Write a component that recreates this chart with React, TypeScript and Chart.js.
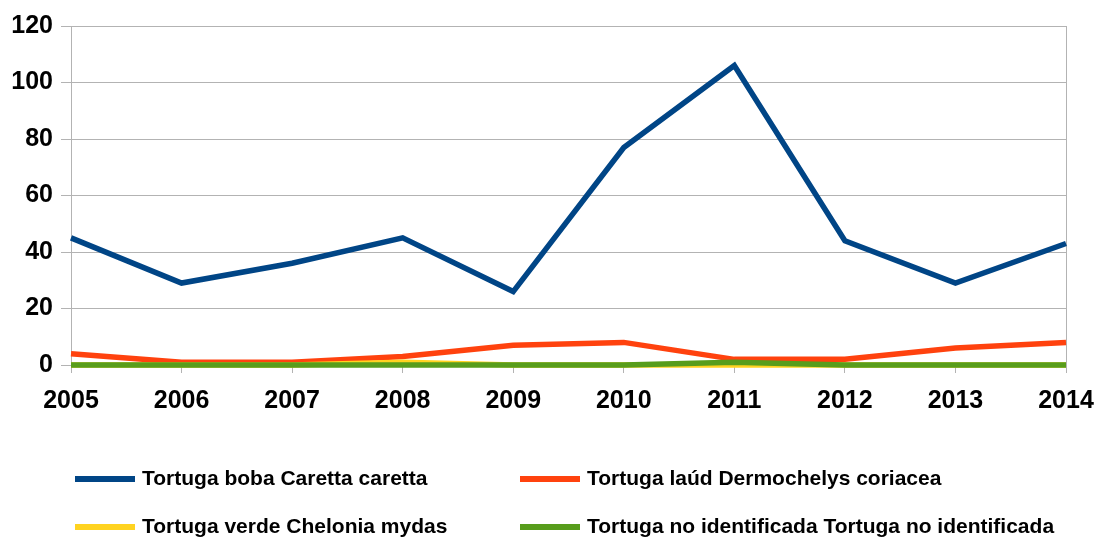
import React, { useEffect, useRef } from "react";
import { Chart, registerables } from "chart.js";

Chart.register(...registerables);

const years = ["2005", "2006", "2007", "2008", "2009", "2010", "2011", "2012", "2013", "2014"];
const tortugaBoba = [45, 29, 36, 45, 26, 77, 106, 44, 29, 43];
const tortugaLaud = [4, 1, 1, 3, 7, 8, 2, 2, 6, 8];
const tortugaVerde = [0, 0, 0, 1, 0, 0, 0, 0, 0, 0];
const tortugaNoIdent = [0, 0, 0, 0, 0, 0, 1, 0, 0, 0];
const seriesLabels = [
  "Tortuga boba Caretta caretta",
  "Tortuga laúd Dermochelys coriacea",
  "Tortuga verde Chelonia mydas",
  "Tortuga no identificada Tortuga no identificada",
];
const seriesColors = ["#004586", "#ff420e", "#ffd320", "#579d1c"];
const yMin = 0;
const yMax = 120;
const yStep = 20;

const GRID = "#b3b3b3";
const FONT = "'Liberation Sans', Arial, sans-serif";

const legendPlugin = {
  id: "customLegend",
  afterDraw(chart: any) {
    const ctx = chart.ctx;
    const cols = [75, 520];
    const rows = [479, 527];
    ctx.save();
    chart.data.datasets.forEach((ds: any, i: number) => {
      const x = cols[i % 2];
      const y = rows[Math.floor(i / 2)];
      ctx.fillStyle = ds.borderColor;
      ctx.fillRect(x, y - 3, 60, 6);
      ctx.fillStyle = "#000";
      ctx.font = `bold 21px ${FONT}`;
      ctx.textBaseline = "middle";
      ctx.textAlign = "left";
      ctx.fillText(ds.label, x + 67, y);
    });
    ctx.restore();
  },
};

export default function App() {
  const ref = useRef<HTMLCanvasElement | null>(null);
  useEffect(() => {
    document.body.style.margin = "0";
    const values = [tortugaBoba, tortugaLaud, tortugaVerde, tortugaNoIdent];
    const orders = [3, 2, 1, 0];
    const chart = new Chart(ref.current as HTMLCanvasElement, {
      type: "line",
      data: {
        labels: years,
        datasets: values.map((v, i) => ({
          label: seriesLabels[i],
          data: v,
          borderColor: seriesColors[i],
          backgroundColor: seriesColors[i],
          borderWidth: 5.5,
          pointRadius: 0,
          tension: 0,
          fill: false,
          clip: false as any,
          order: orders[i],
          borderJoinStyle: "miter" as const,
        })),
      },
      options: {
        responsive: false,
        animation: false,
        layout: { padding: { top: 26, right: 34, bottom: 128, left: 0 } },
        plugins: { legend: { display: false }, tooltip: { enabled: false } },
        scales: {
          x: {
            type: "category",
            offset: false,
            afterFit: (s: any) => {
              s.height = 50;
              s.paddingLeft = 0;
              s.paddingRight = 0;
            },
            grid: {
              color: (c: any) => (c.index === years.length - 1 ? GRID : "rgba(0,0,0,0)"),
              tickColor: GRID,
              tickLength: 8,
              lineWidth: 1,
            },
            border: { display: true, color: GRID },
            ticks: {
              color: "#000",
              font: { family: FONT, size: 25, weight: "bold" },
              padding: 13,
              maxRotation: 0,
              autoSkip: false,
            },
          },
          y: {
            min: yMin,
            max: yMax,
            afterFit: (s: any) => {
              s.width = 71;
              s.paddingTop = 0;
              s.paddingBottom = 0;
            },
            grid: { color: GRID, tickColor: GRID, tickLength: 10, lineWidth: 1 },
            border: { display: true, color: GRID },
            ticks: {
              stepSize: yStep,
              color: "#000",
              font: { family: FONT, size: 25, weight: "bold" },
              padding: 8,
            },
          },
        },
      },
      plugins: [legendPlugin],
    });
    return () => chart.destroy();
  }, []);
  return <canvas ref={ref} width={1100} height={543} style={{ display: "block", width: 1100, height: 543 }} />;
}
